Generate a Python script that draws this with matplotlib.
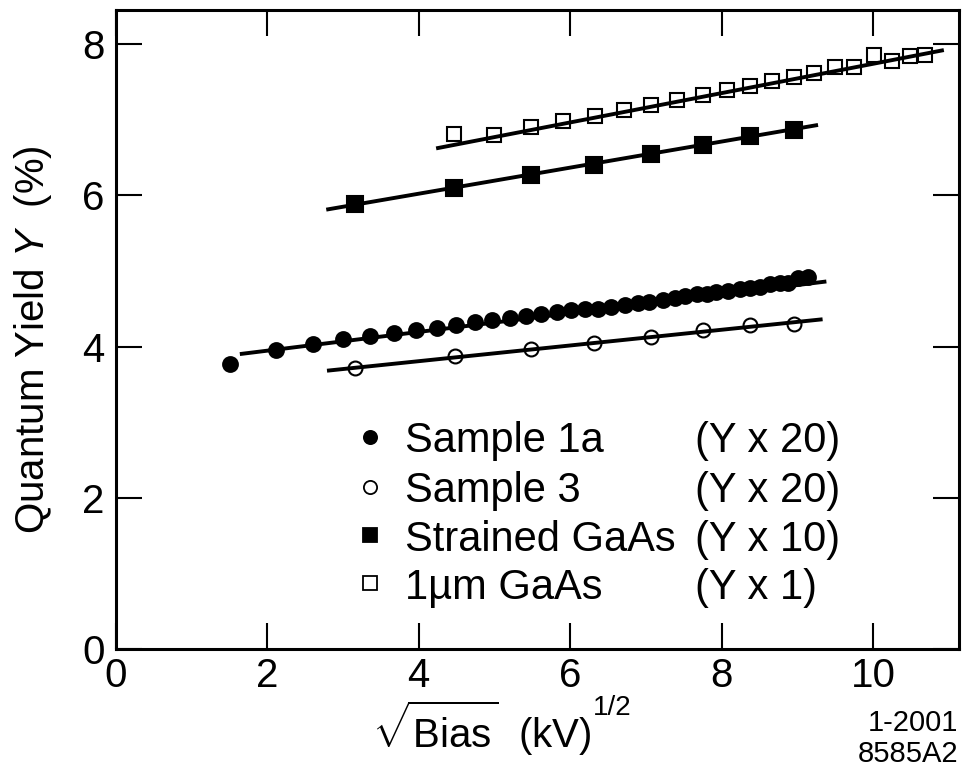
import matplotlib

matplotlib.use("Agg")
import matplotlib.pyplot as plt

plt.rcParams["font.family"] = ["Liberation Sans", "DejaVu Sans"]
plt.rcParams["mathtext.fontset"] = "custom"
plt.rcParams["mathtext.rm"] = "Liberation Sans"
plt.rcParams["mathtext.it"] = "Liberation Sans:italic"

# x: sqrt(Bias) in (kV)^1/2, y: quantum yield in % (already multiplied)
sample_1a_x = [1.51, 2.12, 2.60, 3.00, 3.36, 3.68, 3.97, 4.24, 4.49, 4.74, 4.97,
               5.20, 5.41, 5.61, 5.82, 6.01, 6.19, 6.37, 6.54, 6.72, 6.89, 7.04,
               7.23, 7.38, 7.51, 7.67, 7.80, 7.93, 8.08, 8.24, 8.37, 8.50, 8.63,
               8.77, 8.87, 9.01, 9.14]
sample_1a_y = [3.77, 3.96, 4.03, 4.10, 4.14, 4.18, 4.22, 4.24, 4.28, 4.32, 4.35,
               4.38, 4.41, 4.43, 4.46, 4.48, 4.49, 4.50, 4.52, 4.55, 4.57, 4.59,
               4.62, 4.64, 4.67, 4.70, 4.70, 4.72, 4.74, 4.76, 4.78, 4.79, 4.82,
               4.84, 4.84, 4.90, 4.92]

sample_3_x = [3.16, 4.48, 5.48, 6.32, 7.07, 7.75, 8.37, 8.95]
sample_3_y = [3.72, 3.88, 3.97, 4.05, 4.13, 4.22, 4.29, 4.30]

strained_x = [3.16, 4.47, 5.48, 6.32, 7.07, 7.75, 8.37, 8.95]
strained_y = [5.88, 6.10, 6.27, 6.40, 6.55, 6.66, 6.78, 6.86]

gaas_1um_x = [4.47, 5.00, 5.48, 5.91, 6.33, 6.71, 7.07, 7.41, 7.75, 8.07,
              8.37, 8.66, 8.95, 9.22, 9.50, 9.75, 10.01, 10.25, 10.49, 10.68]
gaas_1um_y = [6.81, 6.80, 6.90, 6.98, 7.05, 7.13, 7.20, 7.26, 7.33, 7.39,
              7.45, 7.51, 7.57, 7.62, 7.70, 7.70, 7.85, 7.77, 7.84, 7.85]

# straight-line fits (end points)
fit_1a_x, fit_1a_y = [1.64, 9.38], [3.90, 4.86]
fit_3_x, fit_3_y = [2.79, 9.33], [3.68, 4.36]
fit_strained_x, fit_strained_y = [2.78, 9.27], [5.81, 6.93]
fit_1um_x, fit_1um_y = [4.23, 10.93], [6.62, 7.92]

legend_names = ["Sample 1a", "Sample 3", "Strained GaAs", "1\u00b5m GaAs"]
legend_scales = ["(Y x 20)", "(Y x 20)", "(Y x 10)", "(Y x 1)"]

x_ticks = [0, 2, 4, 6, 8, 10]
y_ticks = [0, 2, 4, 6, 8]


def main():
    fig = plt.figure(figsize=(9.64, 7.76), dpi=100)
    ax = fig.add_axes([0.1199, 0.1637, 0.8749, 0.8234])

    series = [
        (sample_1a_x, sample_1a_y, fit_1a_x, fit_1a_y, "o", "black", 10.6),
        (sample_3_x, sample_3_y, fit_3_x, fit_3_y, "o", "none", 10.0),
        (strained_x, strained_y, fit_strained_x, fit_strained_y, "s", "black", 11.0),
        (gaas_1um_x, gaas_1um_y, fit_1um_x, fit_1um_y, "s", "none", 10.0),
    ]
    for xs, ys, fx, fy, marker, face, size in series:
        ax.plot(fx, fy, color="black", linewidth=2.8, solid_capstyle="butt", zorder=3)
        ax.plot(xs, ys, linestyle="none", marker=marker, markersize=size,
                markerfacecolor=face, markeredgecolor="black",
                markeredgewidth=1.5, zorder=2)

    # legend drawn by hand so the scale factors line up in a column
    rows_y = [0.332, 0.2535, 0.178, 0.103]
    for (xs, ys, fx, fy, marker, face, size), name, scale, ry in zip(
            series, legend_names, legend_scales, rows_y):
        ax.plot([0.3016], [ry], transform=ax.transAxes, linestyle="none",
                marker=marker, markersize=9.5, markerfacecolor=face,
                markeredgecolor="black", markeredgewidth=1.3)
        ax.text(0.343, ry, name, transform=ax.transAxes, fontsize=30,
                va="center_baseline", ha="left")
        ax.text(0.687, ry, scale, transform=ax.transAxes, fontsize=30,
                va="center_baseline", ha="left")

    ax.set_xlim(0, 11.13)
    ax.set_ylim(0, 8.45)
    ax.set_xticks(x_ticks)
    ax.set_yticks(y_ticks)
    ax.tick_params(direction="in", length=18.7, width=1.5, top=True, right=True,
                   labelsize=29)
    ax.tick_params(axis="x", pad=6)
    ax.tick_params(axis="y", pad=8)
    for spine in ax.spines.values():
        spine.set_linewidth(2.2)

    fig.text(0.034, 0.562, "Quantum Yield $Y$  (%)", rotation=90, fontsize=29,
             ha="center", va="center")
    xlab = fig.text(0.50, 0.036, r"$\sqrt{\mathrm{Bias}}$  (kV)", fontsize=29,
                    ha="center", va="baseline")
    # exponent placed just above the closing bracket
    ax.annotate("1/2", xy=(1.0, 0.62), xycoords=xlab, xytext=(1, 0),
                textcoords="offset points", fontsize=20, ha="left", va="bottom",
                annotation_clip=False)
    fig.text(0.994, 0.058, "1-2001", fontsize=21, ha="right", va="baseline")
    fig.text(0.994, 0.018, "8585A2", fontsize=21, ha="right", va="baseline")

    fig.savefig("out.png", dpi=100)


if __name__ == "__main__":
    main()
